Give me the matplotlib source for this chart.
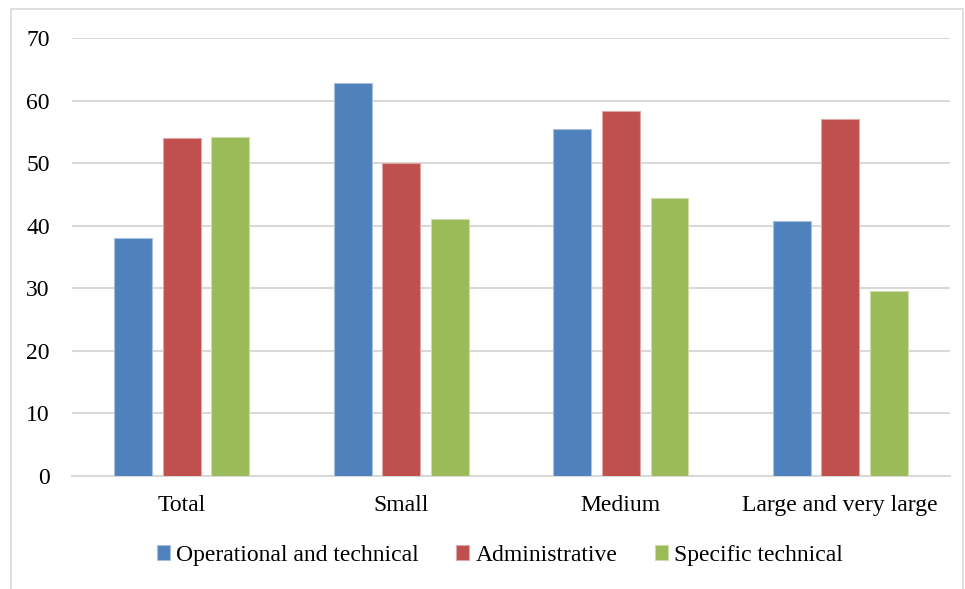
import matplotlib.pyplot as plt
import numpy as np
from matplotlib.patches import Rectangle

categories = ["Total", "Small", "Medium", "Large and very large"]
series_names = ["Operational and technical", "Administrative", "Specific technical"]
operational = [38.1, 62.8, 55.5, 40.7]
administrative = [54.0, 50.0, 58.3, 57.0]
specific = [54.2, 41.0, 44.4, 29.6]
colors = ["#4F81BD", "#C0504D", "#9BBB59"]
edges = ["#a7c0de", "#dfa8a6", "#cddcac"]

plt.rcParams['font.family'] = ['Liberation Serif', 'DejaVu Serif']

fig = plt.figure(figsize=(9.65, 5.89), dpi=100)
ax = fig.add_axes([0.0746, 0.1919, 0.9099, 0.7436])

x = np.arange(len(categories))
width = 0.173
pitch = 0.222
for k, vals in enumerate([operational, administrative, specific]):
    ax.bar(x + (k - 1) * pitch, vals, width, color=colors[k],
           edgecolor=edges[k], linewidth=0.8, label=series_names[k], zorder=3)

ax.set_xlim(-0.5, 3.5)
ax.set_ylim(0, 70)
ax.set_yticks(range(0, 71, 10))
ax.set_xticks(x)
ax.set_xticklabels(categories)
ax.tick_params(axis='both', length=0, labelsize=17, colors='black')
ax.tick_params(axis='y', pad=16)
ax.tick_params(axis='x', pad=14)
ax.yaxis.grid(True, color='#d9d9d9', linewidth=1.5, zorder=0)
for s in ['top', 'right', 'left']:
    ax.spines[s].set_visible(False)
ax.spines['bottom'].set_color('#d9d9d9')
ax.spines['bottom'].set_linewidth(1.5)

fig.legend(loc='center', bbox_to_anchor=(0.518, 0.057), ncol=3, frameon=False,
           fontsize=17, handlelength=0.55, handleheight=0.55, handletextpad=0.25,
           columnspacing=1.6)

# light frame around the chart area
fig.patches.append(Rectangle((11 / 965, -0.01), 952 / 965, 1 - 9 / 589 + 0.01,
                             transform=fig.transFigure, fill=False,
                             edgecolor='#d9d9d9', linewidth=1.2))

fig.savefig("out.png", dpi=100)
